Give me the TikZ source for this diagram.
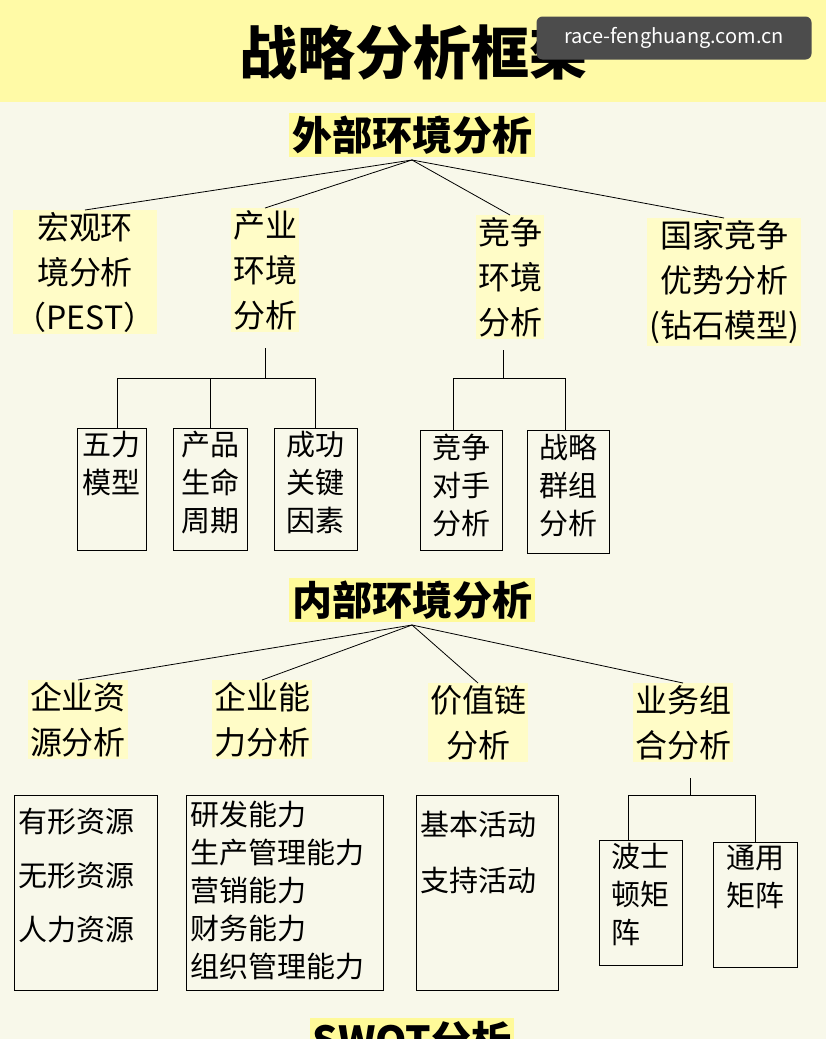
\documentclass[tikz,border=0pt]{standalone}
\usepackage{fontspec}
\setmainfont{Noto Sans CJK SC}
\begin{document}
\begin{tikzpicture}[x=1pt,y=-1pt,
  hl/.style={fill=yellow!22,inner sep=2pt,font=\fontsize{32}{45}\selectfont,align=center},
  head/.style={fill=yellow!40,inner sep=3pt,font=\fontsize{40}{44}\selectfont\bfseries},
  bx/.style={draw,thick,anchor=north west,inner sep=0pt},
  bt/.style={font=\fontsize{29}{38}\selectfont,align=left},
  ln/.style={thick}]
\fill[yellow!6!white!97!black] (0,0) rectangle (826,1039);
\fill[yellow!35] (0,0) rectangle (826,102);
\useasboundingbox (0,0) rectangle (826,1039);
\node[font=\fontsize{58}{60}\selectfont\bfseries] (title) at (413,52) {战略分析框架};
\node[fill=black!70,rounded corners=6pt,text=white,minimum width=275,minimum height=43,font=\fontsize{20}{24}\selectfont] (wm) at (674,38) {race-fenghuang.com.cn};
\node[head] (ext) at (412,135) {外部环境分析};
\node[hl,anchor=north] (m1) at (85,210) {宏观环\\境分析\\（PEST）};
\node[hl,anchor=north] (m2) at (265,208) {产业\\环境\\分析};
\node[hl,anchor=north] (m3) at (510,215) {竞争\\环境\\分析};
\node[hl,anchor=north] (m4) at (724,218) {国家竞争\\优势分析\\(钻石模型)};
\coordinate (a1) at (412,160);
\foreach \n in {m1,m2,m3,m4} \draw[ln] (a1) -- (\n.north);
% industry subtree
\draw[ln] (265,348) -- (265,378);
\draw[ln] (117,378) -- (315,378);
\node[bx,minimum width=69,minimum height=122] (b1) at (77,428) {};
\node[bx,minimum width=74,minimum height=122] (b2) at (173,428) {};
\node[bx,minimum width=83,minimum height=122] (b3) at (274,428) {};
\draw[ln] (117,378) -- (117,428);
\draw[ln] (210,378) -- (210,428);
\draw[ln] (315,378) -- (315,428);
\node[bt,anchor=north] at (b1.north) {五力\\模型};
\node[bt,anchor=north] at (b2.north) {产品\\生命\\周期};
\node[bt,anchor=north] at (b3.north) {成功\\关键\\因素};
% competition subtree
\draw[ln] (503,350) -- (503,378);
\draw[ln] (453,378) -- (565,378);
\node[bx,minimum width=82,minimum height=120] (c1) at (420,430) {};
\node[bx,minimum width=82,minimum height=123] (c2) at (527,430) {};
\draw[ln] (453,378) -- (453,430);
\draw[ln] (565,378) -- (565,430);
\node[bt,anchor=north] at (c1.north) {竞争\\对手\\分析};
\node[bt,anchor=north] at (c2.north) {战略\\群组\\分析};
% internal
\node[head] (int) at (412,600) {内部环境分析};
\coordinate (a2) at (412,625);
\node[hl,anchor=north] (n1) at (78,680) {企业资\\源分析};
\node[hl,anchor=north] (n2) at (262,680) {企业能\\力分析};
\node[hl,anchor=north] (n3) at (478,683) {价值链\\分析};
\node[hl,anchor=north] (n4) at (683,683) {业务组\\合分析};
\foreach \n in {n1,n2,n3,n4} \draw[ln] (a2) -- (\n.north);
\node[bx,minimum width=143,minimum height=195] (d1) at (14,795) {};
\node[bx,minimum width=197,minimum height=195] (d2) at (186,795) {};
\node[bx,minimum width=142,minimum height=195] (d3) at (416,795) {};
\node[bt,anchor=north west,font=\fontsize{29}{54}\selectfont] at (15,805) {有形资源\\无形资源\\人力资源};
\node[bt,anchor=north west,font=\fontsize{29}{38}\selectfont] at (187,797) {研发能力\\生产管理能力\\营销能力\\财务能力\\组织管理能力};
\node[bt,anchor=north west,font=\fontsize{29}{56}\selectfont] at (417,808) {基本活动\\支持活动};
\draw[ln] (690,778) -- (690,795);
\draw[ln] (628,795) -- (755,795);
\node[bx,minimum width=83,minimum height=125] (e1) at (599,840) {};
\node[bx,minimum width=84,minimum height=125] (e2) at (713,842) {};
\draw[ln] (628,795) -- (628,840);
\draw[ln] (755,795) -- (755,842);
\node[bt,anchor=north] at (e1.north) {波士\\顿矩\\阵};
\node[bt,anchor=north] at (e2.north) {通用\\矩阵};
\node[head] (swot) at (412,1040) {SWOT分析};
\end{tikzpicture}
\end{document}
